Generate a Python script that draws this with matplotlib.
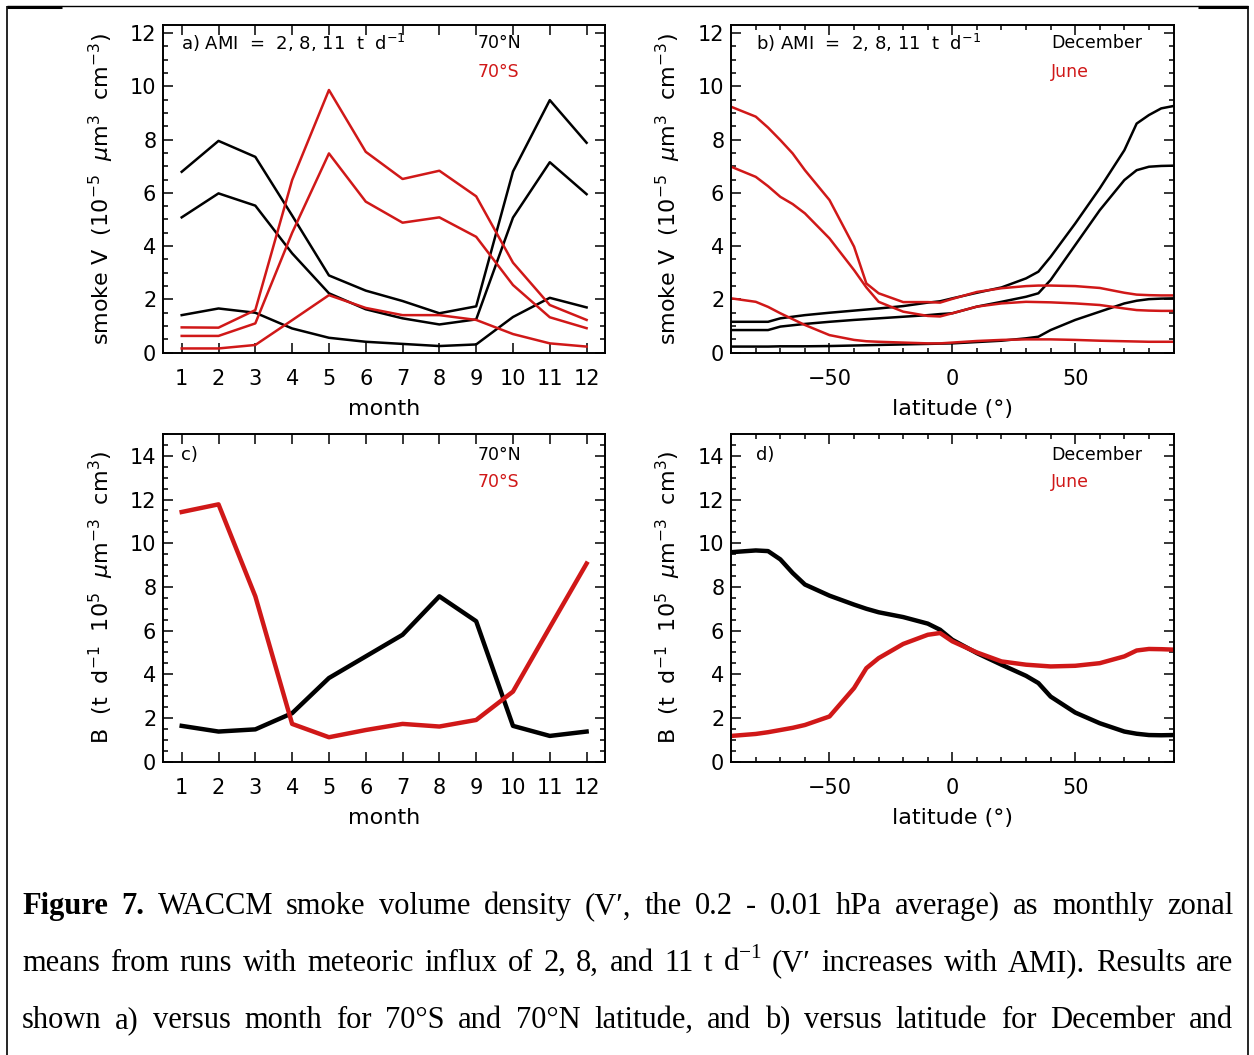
import matplotlib
matplotlib.use("Agg")
import matplotlib.pyplot as plt
from matplotlib.lines import Line2D
from matplotlib.ticker import MultipleLocator

W, H = 1254, 1055
RED = "#d01818"

# ── panel a/c: monthly values at 70N (black) and 70S (red) ─────────────────
MONTHS = [1, 2, 3, 4, 5, 6, 7, 8, 9, 10, 11, 12]

V_70N_AMI2 = [1.41, 1.66, 1.50, 0.91, 0.56, 0.41, 0.33, 0.25, 0.31, 1.34, 2.06, 1.70]
V_70N_AMI8 = [5.08, 5.98, 5.52, 3.73, 2.23, 1.63, 1.29, 1.06, 1.25, 5.07, 7.15, 5.95]
V_70N_AMI11 = [6.79, 7.95, 7.35, 5.15, 2.90, 2.33, 1.94, 1.48, 1.74, 6.80, 9.48, 7.88]

V_70S_AMI2 = [0.16, 0.16, 0.29, 1.22, 2.16, 1.68, 1.41, 1.41, 1.23, 0.70, 0.35, 0.23]
V_70S_AMI8 = [0.63, 0.63, 1.10, 4.50, 7.48, 5.67, 4.88, 5.08, 4.35, 2.54, 1.33, 0.92]
V_70S_AMI11 = [0.95, 0.94, 1.60, 6.48, 9.86, 7.54, 6.52, 6.83, 5.87, 3.38, 1.79, 1.23]

B_70N = [1.64, 1.38, 1.48, 2.22, 3.83, 4.82, 5.81, 7.57, 6.43, 1.64, 1.18, 1.38]
B_70S = [11.43, 11.78, 7.57, 1.73, 1.12, 1.45, 1.73, 1.61, 1.91, 3.21, 6.15, 9.07]

# ── panel b/d: latitude profiles for December (black) and June (red) ──────
LAT = [-90, -80, -75, -70, -65, -60, -50, -40, -35, -30, -20, -10, -5, 0,
       10, 20, 30, 35, 40, 50, 60, 70, 75, 80, 85, 90]

V_DEC_AMI2 = [0.23, 0.23, 0.23, 0.24, 0.24, 0.24, 0.25, 0.27, 0.28, 0.29, 0.31, 0.33, 0.34,
              0.35, 0.40, 0.45, 0.54, 0.60, 0.85, 1.23, 1.54, 1.85, 1.95, 2.01, 2.03, 2.04]
V_DEC_AMI8 = [0.85, 0.85, 0.85, 0.98, 1.03, 1.08, 1.16, 1.23, 1.26, 1.29, 1.35, 1.41, 1.45,
              1.48, 1.73, 1.91, 2.10, 2.23, 2.73, 4.04, 5.35, 6.48, 6.85, 6.98, 7.01, 7.02]
V_DEC_AMI11 = [1.16, 1.16, 1.16, 1.29, 1.35, 1.41, 1.50, 1.58, 1.62, 1.66, 1.75, 1.88, 1.93,
               2.04, 2.25, 2.45, 2.79, 3.04, 3.60, 4.85, 6.17, 7.60, 8.60, 8.92, 9.17, 9.26]

V_JUN_AMI2 = [2.04, 1.91, 1.72, 1.48, 1.26, 1.04, 0.66, 0.48, 0.43, 0.41, 0.38, 0.35, 0.35,
              0.38, 0.44, 0.48, 0.50, 0.50, 0.50, 0.48, 0.45, 0.43, 0.42, 0.41, 0.41, 0.41]
V_JUN_AMI8 = [6.98, 6.60, 6.25, 5.85, 5.58, 5.23, 4.29, 3.10, 2.45, 1.91, 1.54, 1.38, 1.36,
              1.48, 1.73, 1.85, 1.91, 1.90, 1.89, 1.85, 1.79, 1.66, 1.60, 1.58, 1.57, 1.57]
V_JUN_AMI11 = [9.23, 8.86, 8.45, 7.98, 7.48, 6.85, 5.73, 3.98, 2.60, 2.23, 1.90, 1.90, 1.88,
               2.02, 2.28, 2.42, 2.50, 2.52, 2.52, 2.50, 2.43, 2.25, 2.18, 2.16, 2.15, 2.15]

B_DEC = [9.59, 9.67, 9.64, 9.26, 8.64, 8.11, 7.60, 7.19, 7.00, 6.84, 6.62, 6.32, 6.04,
         5.58, 4.97, 4.44, 3.93, 3.60, 2.98, 2.25, 1.76, 1.38, 1.28, 1.22, 1.21, 1.22]
B_JUN = [1.18, 1.27, 1.35, 1.45, 1.55, 1.68, 2.07, 3.37, 4.28, 4.74, 5.39, 5.81, 5.89,
         5.51, 5.00, 4.59, 4.44, 4.40, 4.36, 4.39, 4.51, 4.82, 5.09, 5.16, 5.15, 5.13]

V_LABEL = r"smoke V  (10$^{-5}$  $\mu$m$^3$  cm$^{-3}$)"
B_LABEL = r"B  (t  d$^{-1}$  10$^5$  $\mu$m$^{-3}$  cm$^3$)"
AMI_TEXT = r"AMI  =  2, 8, 11  t  d$^{-1}$"

CAPTION_1 = "WACCM smoke volume density (V\u2032, the 0.2 - 0.01 hPa average) as monthly zonal"
CAPTION_2 = ("means from runs with meteoric influx of 2, 8, and 11 t d$^{\\mathregular{-1}}$ "
             "(V\u2032 increases with AMI). Results are")
CAPTION_3 = ("shown a) versus month for 70\u00b0S and 70\u00b0N latitude, and b) versus "
             "latitude for December and")
CAPTION_BASELINES = [914, 971, 1028]
CAP_LEFT, CAP_RIGHT = 22, 1233


def px_axes(fig, left, top, right, bottom):
    return fig.add_axes([left / W, 1 - bottom / H, (right - left) / W, (bottom - top) / H])


def style(ax, ymax, latitude):
    ax.set_ylim(0, ymax)
    ax.yaxis.set_major_locator(MultipleLocator(2))
    ax.yaxis.set_minor_locator(MultipleLocator(0.5))
    if latitude:
        ax.set_xlim(-90, 90)
        ax.xaxis.set_major_locator(MultipleLocator(50))
        ax.xaxis.set_minor_locator(MultipleLocator(10))
        ax.set_xlabel("latitude (\u00b0)", fontsize=16)
    else:
        ax.set_xlim(0.5, 12.5)
        ax.set_xticks(MONTHS)
        ax.set_xlabel("month", fontsize=16)
    ax.tick_params(which="both", direction="in", top=True, right=True, width=1.1,
                   labelsize=15)
    ax.tick_params(which="major", length=7)
    ax.tick_params(which="minor", length=3.5)
    ax.tick_params(axis="x", pad=12)
    ax.tick_params(axis="y", pad=5)
    for s in ax.spines.values():
        s.set_linewidth(1.4)
    ax.xaxis.set_label_coords(0.5, -0.142)
    ax.yaxis.set_label_coords(-0.108, 0.5)
    # IDL lifts the bottom "0" label so it sits on the axis line
    ticks = ax.yaxis.get_major_ticks()
    ticks[0].label1.set_verticalalignment("bottom")


def fig_line(fig, x0, y0, x1, y1, lw):
    fig.add_artist(Line2D([x0 / W, x1 / W], [1 - y0 / H, 1 - y1 / H],
                          transform=fig.transFigure, color="black", lw=lw,
                          solid_capstyle="butt"))


def caption_line(fig, words, base_y, size):
    """Place words one by one so the line is fully justified, like the page."""
    renderer = fig.canvas.get_renderer()
    items = []
    for word, bold in words:
        t = fig.text(0, 1 - base_y / H, word, fontsize=size, va="baseline",
                     family=["Liberation Serif", "DejaVu Serif"],
                     weight="bold" if bold else "normal")
        items.append(t)
    widths = [t.get_window_extent(renderer).width for t in items]
    gap = (CAP_RIGHT - CAP_LEFT - sum(widths)) / (len(items) - 1)
    x = CAP_LEFT
    for t, w in zip(items, widths):
        t.set_x(x / W)
        x += w + gap


fig = plt.figure(figsize=(W / 100, H / 100), dpi=100)

ax_a = px_axes(fig, 163.3, 25, 605, 352.7)
ax_b = px_axes(fig, 731.2, 25, 1173.5, 352.7)
ax_c = px_axes(fig, 163.3, 434, 605, 761.7)
ax_d = px_axes(fig, 731.2, 434, 1173.5, 761.7)

# a) smoke volume vs month
for vals in (V_70N_AMI2, V_70N_AMI8, V_70N_AMI11):
    ax_a.plot(MONTHS, vals, color="black", lw=1.8)
for vals in (V_70S_AMI2, V_70S_AMI8, V_70S_AMI11):
    ax_a.plot(MONTHS, vals, color=RED, lw=1.8)
style(ax_a, 12.3, False)
ax_a.set_ylabel(V_LABEL, fontsize=16)
ax_a.text(0.04, 0.944, "a) " + AMI_TEXT, transform=ax_a.transAxes, fontsize=13, va="center")
ax_a.text(0.711, 0.944, "70\u00b0N", transform=ax_a.transAxes, fontsize=12.5, va="center")
ax_a.text(0.711, 0.8575, "70\u00b0S", transform=ax_a.transAxes, fontsize=12.5, va="center",
          color=RED)

# b) smoke volume vs latitude
for vals in (V_DEC_AMI2, V_DEC_AMI8, V_DEC_AMI11):
    ax_b.plot(LAT, vals, color="black", lw=1.8)
for vals in (V_JUN_AMI2, V_JUN_AMI8, V_JUN_AMI11):
    ax_b.plot(LAT, vals, color=RED, lw=1.8)
style(ax_b, 12.3, True)
ax_b.set_ylabel(V_LABEL, fontsize=16)
ax_b.text(0.055, 0.944, "b) " + AMI_TEXT, transform=ax_b.transAxes, fontsize=13, va="center")
ax_b.text(0.7226, 0.944, "December", transform=ax_b.transAxes, fontsize=12.5, va="center")
ax_b.text(0.7226, 0.8575, "June", transform=ax_b.transAxes, fontsize=12.5, va="center",
          color=RED)

# c) B vs month
ax_c.plot(MONTHS, B_70N, color="black", lw=3.2)
ax_c.plot(MONTHS, B_70S, color=RED, lw=3.2)
style(ax_c, 15, False)
ax_c.set_ylabel(B_LABEL, fontsize=16)
ax_c.text(0.04, 0.936, "c)", transform=ax_c.transAxes, fontsize=13, va="center")
ax_c.text(0.711, 0.936, "70\u00b0N", transform=ax_c.transAxes, fontsize=12.5, va="center")
ax_c.text(0.711, 0.854, "70\u00b0S", transform=ax_c.transAxes, fontsize=12.5, va="center",
          color=RED)

# d) B vs latitude
ax_d.plot(LAT, B_DEC, color="black", lw=3.2)
ax_d.plot(LAT, B_JUN, color=RED, lw=3.2)
style(ax_d, 15, True)
ax_d.set_ylabel(B_LABEL, fontsize=16)
ax_d.text(0.055, 0.936, "d)", transform=ax_d.transAxes, fontsize=13, va="center")
ax_d.text(0.7226, 0.936, "December", transform=ax_d.transAxes, fontsize=12.5, va="center")
ax_d.text(0.7226, 0.854, "June", transform=ax_d.transAxes, fontsize=12.5, va="center",
          color=RED)

# page frame around the figure
fig_line(fig, 7, 6, 1248, 6, 1.0)
fig_line(fig, 7, 6.5, 62, 6.5, 2.2)
fig_line(fig, 1198, 6.5, 1248, 6.5, 2.2)
fig_line(fig, 7, 6, 7, H, 1.2)
fig_line(fig, 1248, 6, 1248, H, 1.2)

caption_words = [
    [("Figure", True), ("7.", True)] + [(w, False) for w in CAPTION_1.split()],
    [(w, False) for w in CAPTION_2.split()],
    [(w, False) for w in CAPTION_3.split()],
]
for words, base in zip(caption_words, CAPTION_BASELINES):
    caption_line(fig, words, base, 22)

fig.savefig("out.png", dpi=100)
